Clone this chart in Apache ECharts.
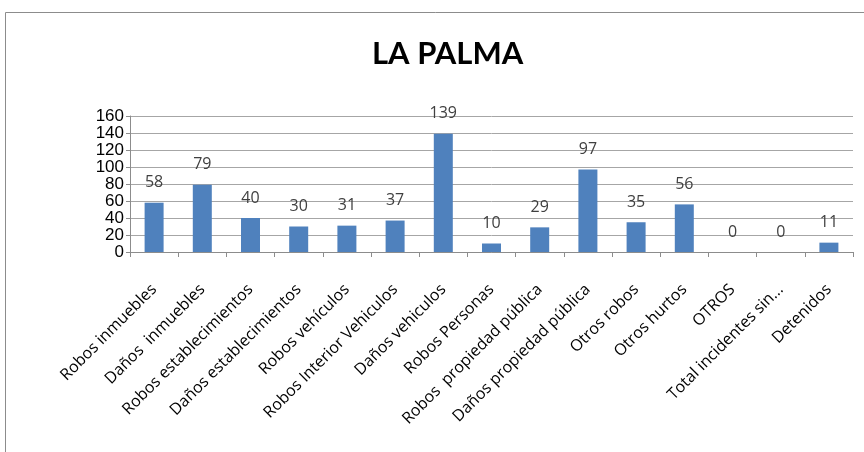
<!DOCTYPE html>
<html>
<head>
<meta charset="utf-8">
<script src="https://cdn.jsdelivr.net/npm/echarts@6/dist/echarts.min.js"></script>
<style>html,body{margin:0;padding:0;background:#fff;}#c{width:864px;height:452px;}</style>
</head>
<body>
<div id="c"></div>
<script>
const titleText = "LA PALMA";
const categories = ["Robos inmuebles","Daños  inmuebles","Robos establecimientos","Daños establecimientos","Robos vehículos","Robos Interior Vehiculos","Daños vehiculos","Robos Personas","Robos  propiedad pública","Daños propiedad pública","Otros robos","Otros hurtos","OTROS","Total incidentes sin...","Detenidos"];
const values = [58,79,40,30,31,37,139,10,29,97,35,56,0,0,11];
const yTicks = [0,20,40,60,80,100,120,140,160];

const chart = echarts.init(document.getElementById('c'), null, {renderer:'canvas'});
chart.setOption({
  animation:false,
  backgroundColor:'#fff',
  graphic:[{type:'rect',shape:{x:5.5,y:12.5,width:900,height:500},style:{fill:'none',stroke:'#8c8c8c',lineWidth:1},z:-1}],
  title:{text:titleText,left:367,top:33,textStyle:{fontFamily:'Lato',fontWeight:'bold',fontSize:31,color:'#000'}},
  grid:{left:130,right:11,top:116,bottom:200,containLabel:false},
  xAxis:{type:'category',data:categories,
    axisLine:{lineStyle:{color:'#8c8c8c'}},
    axisTick:{show:true,length:5,lineStyle:{color:'#8c8c8c'}},
    axisLabel:{rotate:45,interval:0,fontFamily:'Open Sans',fontSize:16,color:'#000',margin:35}},
  yAxis:{type:'value',min:yTicks[0],max:yTicks[yTicks.length-1],interval:20,
    axisLine:{show:true,lineStyle:{color:'#8c8c8c'}},
    axisTick:{show:true,length:4,lineStyle:{color:'#8c8c8c'}},
    splitLine:{lineStyle:{color:'#a6a6a6'}},
    axisLabel:{fontFamily:'Liberation Sans',fontSize:17,color:'#000',margin:6}},
  series:[{type:'bar',data:values,barWidth:19,itemStyle:{color:'#4F81BD'},
    label:{show:true,position:'top',distance:12,fontFamily:'Open Sans',fontSize:16,color:'#404040'}}]
});
</script>
</body>
</html>
